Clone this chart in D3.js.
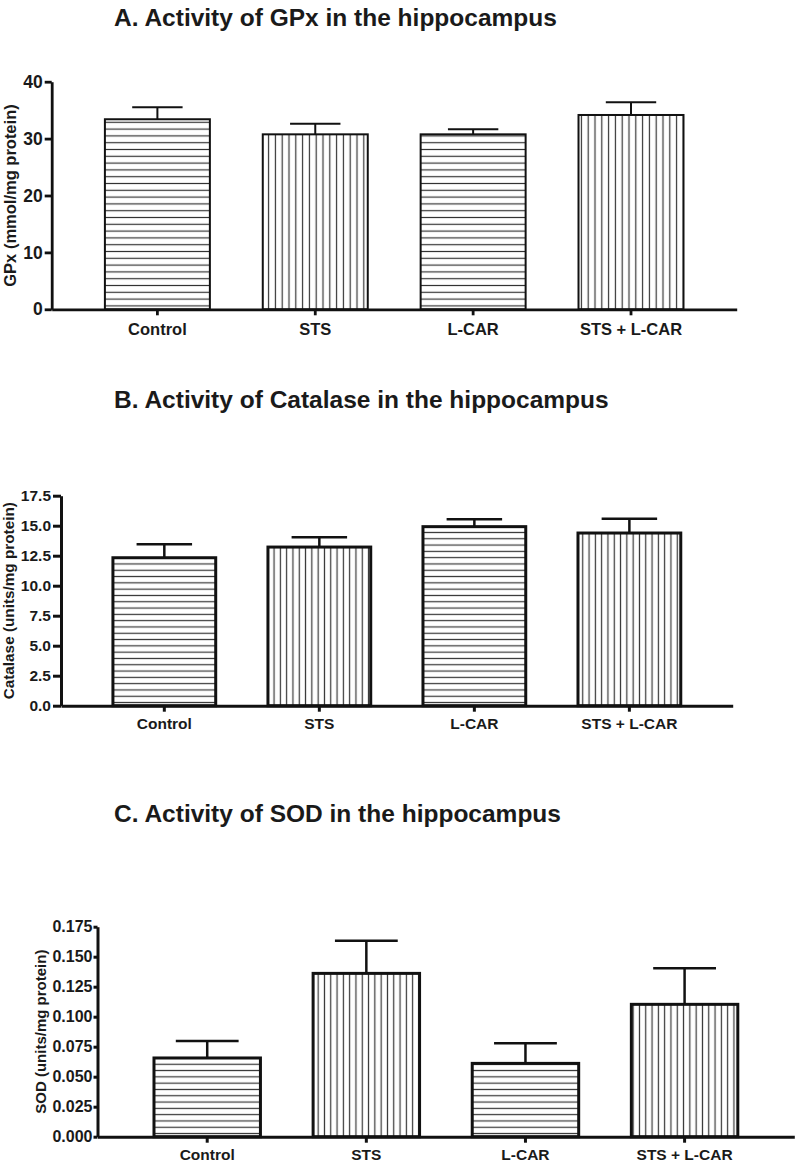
<!DOCTYPE html>
<html><head><meta charset="utf-8">
<script src="https://cdn.jsdelivr.net/npm/d3@7"></script>
<style>
html,body{margin:0;padding:0;background:#fff;}
svg text{font-family:Arial,"Liberation Sans",sans-serif;font-weight:bold;fill:#1a1a1a;}
</style></head>
<body><svg id="chart" width="796" height="1166"></svg>
<script>
// ---------- data ----------
const categories = ["Control", "STS", "L-CAR", "STS + L-CAR"];
const hatch = ["h", "v", "h", "v"];

const gpxTitle = "A. Activity of GPx in the hippocampus";
const gpxYLabel = "GPx (mmol/mg protein)";
const gpxMean = [33.4, 30.75, 30.75, 34.15];
const gpxErr  = [2.1, 1.85, 0.9, 2.25];
const gpxTicks = [0, 10, 20, 30, 40];

const catTitle = "B. Activity of Catalase in the hippocampus";
const catYLabel = "Catalase (units/mg protein)";
const catMean = [12.33, 13.22, 14.92, 14.39];
const catErr  = [1.12, 0.81, 0.61, 1.19];
const catTicks = [0, 2.5, 5, 7.5, 10, 12.5, 15, 17.5];

const sodTitle = "C. Activity of SOD in the hippocampus";
const sodYLabel = "SOD (units/mg protein)";
const sodMean = [0.0656, 0.1361, 0.0611, 0.1103];
const sodErr  = [0.0141, 0.0272, 0.0167, 0.0300];
const sodTicks = [0, 0.025, 0.05, 0.075, 0.1, 0.125, 0.15, 0.175];

// ---------- layout ----------
const panels = [
  {title: gpxTitle, ylabel: gpxYLabel, mean: gpxMean, err: gpxErr, ticks: gpxTicks, fmt: d3.format("d"),
   x0: 51.7, x1: 736.7, yTop: 81.7, yBot: 309.3, pIn: 0.335, pOut: 0.337,
   titleY: 26, titleSize: 24.5, tickFont: 17.5, catFont: 16.5, catY: 335, labelX: 10, labelFont: 16.5,
   axisW: 2.8, barW: 2, errW: 2, capFrac: 0.48, hatchGap: 6.8, tickLen: 7, tickPad: 2, xTickLen: 6},
  {title: catTitle, ylabel: catYLabel, mean: catMean, err: catErr, ticks: catTicks, fmt: d3.format(".1f"),
   x0: 61, x1: 732.7, yTop: 495.7, yBot: 705.7, pIn: 0.337, pOut: 0.335,
   titleY: 408, titleSize: 24.5, tickFont: 15.5, catFont: 15.5, catY: 729, labelX: 9, labelFont: 15.3,
   axisW: 3, barW: 3, errW: 2.5, capFrac: 0.54, hatchGap: 6.3, tickLen: 8, tickPad: 2, xTickLen: 6},
  {title: sodTitle, ylabel: sodYLabel, mean: sodMean, err: sodErr, ticks: sodTicks, fmt: d3.format(".3f"),
   x0: 97.5, x1: 794.3, yTop: 926.7, yBot: 1136.7, pIn: 0.331, pOut: 0.355,
   titleY: 822, titleSize: 24.5, tickFont: 16, catFont: 15.5, catY: 1160, labelX: 41, labelFont: 15,
   axisW: 3, barW: 3, errW: 2.5, capFrac: 0.59, hatchGap: 6.3, tickLen: 4, tickPad: 1, xTickLen: 6}
];

const svg = d3.select("#chart");
const defs = svg.append("defs");

panels.forEach((p, pi) => {
  // hatch patterns
  const ph = defs.append("pattern").attr("id", "h" + pi).attr("patternUnits", "userSpaceOnUse")
    .attr("width", 10).attr("height", p.hatchGap).attr("y", p.yBot);
  ph.append("rect").attr("width", 10).attr("height", p.hatchGap).attr("fill", "#fff");
  ph.append("line").attr("x1", 0).attr("x2", 10).attr("y1", p.hatchGap / 2).attr("y2", p.hatchGap / 2)
    .attr("stroke", "#333").attr("stroke-width", 1.2);
  const pv = defs.append("pattern").attr("id", "v" + pi).attr("patternUnits", "userSpaceOnUse")
    .attr("width", p.hatchGap).attr("height", 10);
  pv.append("rect").attr("width", p.hatchGap).attr("height", 10).attr("fill", "#fff");
  pv.append("line").attr("y1", 0).attr("y2", 10).attr("x1", p.hatchGap / 2).attr("x2", p.hatchGap / 2)
    .attr("stroke", "#333").attr("stroke-width", 1.2);

  const x = d3.scaleBand().domain(categories).range([p.x0, p.x1]).paddingInner(p.pIn).paddingOuter(p.pOut);
  const yMax = p.ticks[p.ticks.length - 1];
  const y = d3.scaleLinear().domain([0, yMax]).range([p.yBot, p.yTop]);
  const g = svg.append("g");

  // title
  g.append("text").attr("x", 114).attr("y", p.titleY).attr("font-size", p.titleSize).text(p.title);

  const data = categories.map((c, i) => ({c, m: p.mean[i], e: p.err[i], h: hatch[i]}));
  // error bars
  const eb = g.selectAll(".eb").data(data).enter().append("g");
  eb.append("line").attr("x1", d => x(d.c) + x.bandwidth() / 2).attr("x2", d => x(d.c) + x.bandwidth() / 2)
    .attr("y1", d => y(d.m)).attr("y2", d => y(d.m + d.e)).attr("stroke", "#111").attr("stroke-width", p.errW);
  eb.append("line").attr("x1", d => x(d.c) + x.bandwidth() / 2 - x.bandwidth() * p.capFrac / 2)
    .attr("x2", d => x(d.c) + x.bandwidth() / 2 + x.bandwidth() * p.capFrac / 2)
    .attr("y1", d => y(d.m + d.e)).attr("y2", d => y(d.m + d.e)).attr("stroke", "#111").attr("stroke-width", p.errW);

  // bars
  g.selectAll(".bar").data(data).enter().append("rect")
    .attr("x", d => x(d.c)).attr("width", x.bandwidth())
    .attr("y", d => y(d.m)).attr("height", d => y(0) - y(d.m))
    .attr("fill", d => `url(#${d.h}${pi})`).attr("stroke", "#111").attr("stroke-width", p.barW);

  // y axis
  const ya = g.append("g").attr("transform", `translate(${p.x0},0)`)
    .call(d3.axisLeft(y).tickValues(p.ticks).tickFormat(p.fmt).tickSize(p.tickLen).tickSizeOuter(0).tickPadding(p.tickPad));
  ya.select(".domain").attr("stroke", "#111").attr("stroke-width", p.axisW);
  ya.selectAll(".tick line").attr("stroke", "#111").attr("stroke-width", p.axisW);
  ya.selectAll(".tick text").attr("font-size", p.tickFont).attr("font-family", null)
    .style("font-family", "Arial, 'Liberation Sans', sans-serif").style("font-weight", "bold").attr("fill", "#1a1a1a");

  // x axis
  const xa = g.append("g").attr("transform", `translate(0,${p.yBot})`)
    .call(d3.axisBottom(x).tickSize(p.xTickLen).tickSizeOuter(0).tickFormat(""));
  xa.select(".domain").attr("stroke", "#111").attr("stroke-width", p.axisW);
  xa.selectAll(".tick line").attr("stroke", "#111").attr("stroke-width", p.axisW);

  g.selectAll(".cat").data(categories).enter().append("text")
    .attr("x", d => x(d) + x.bandwidth() / 2).attr("y", p.catY).attr("text-anchor", "middle")
    .attr("font-size", p.catFont).text(d => d);

  // y label
  g.append("text").attr("transform", `translate(${p.labelX},${(p.yTop + p.yBot) / 2}) rotate(-90)`)
    .attr("text-anchor", "middle").attr("dy", "0.35em").attr("font-size", p.labelFont).text(p.ylabel);
});
</script></body></html>
